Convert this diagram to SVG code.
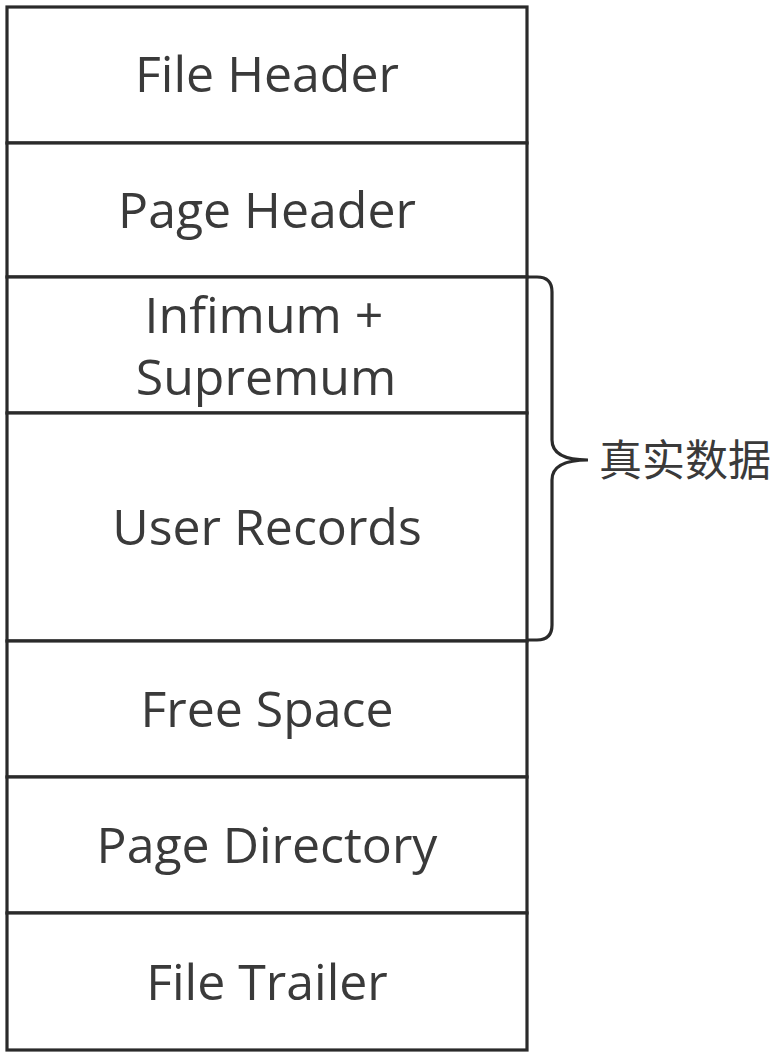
<svg xmlns="http://www.w3.org/2000/svg" width="780" height="1058" viewBox="0 0 780 1058">
<style>
.box{fill:#fff;stroke:#2a2a2a;stroke-width:3.2}
.t{font-family:"Open Sans","Noto Sans","Liberation Sans",sans-serif;font-size:50px;fill:#3a3a3a;text-anchor:middle}
.cn{font-family:"Noto Sans CJK SC","Noto Sans",sans-serif;font-size:43px;fill:#3a3a3a}
.br{fill:none;stroke:#2a2a2a;stroke-width:3.2}
</style>
<rect width="780" height="1058" fill="#fff"/>
<g id="file-header"><rect class="box" x="7" y="7" width="520" height="136"/><text class="t" x="267" y="92">File Header</text></g>
<g id="page-header"><rect class="box" x="7" y="143" width="520" height="134"/><text class="t" x="267" y="228">Page Header</text></g>
<g id="infimum-supremum"><rect class="box" x="7" y="277" width="520" height="136"/><text class="t" x="264" y="333">Infimum +</text><text class="t" x="266" y="395">Supremum</text></g>
<g id="user-records"><rect class="box" x="7" y="413" width="520" height="228"/><text class="t" x="267" y="545">User Records</text></g>
<g id="free-space"><rect class="box" x="7" y="641" width="520" height="136"/><text class="t" x="267" y="727">Free Space</text></g>
<g id="page-directory"><rect class="box" x="7" y="777" width="520" height="136"/><text class="t" x="267" y="863">Page Directory</text></g>
<g id="file-trailer"><rect class="box" x="7" y="913" width="520" height="137"/><text class="t" x="267" y="1000">File Trailer</text></g>
<g id="connectors"><path class="br" d="M527,277 H537 Q552,277 552,292 V440 Q552,460 588,460 Q552,460 552,480 V625 Q552,640 537,640 H527"/></g>
<g id="brace-label"><text class="cn" x="599" y="476">真实数据</text></g>
</svg>
